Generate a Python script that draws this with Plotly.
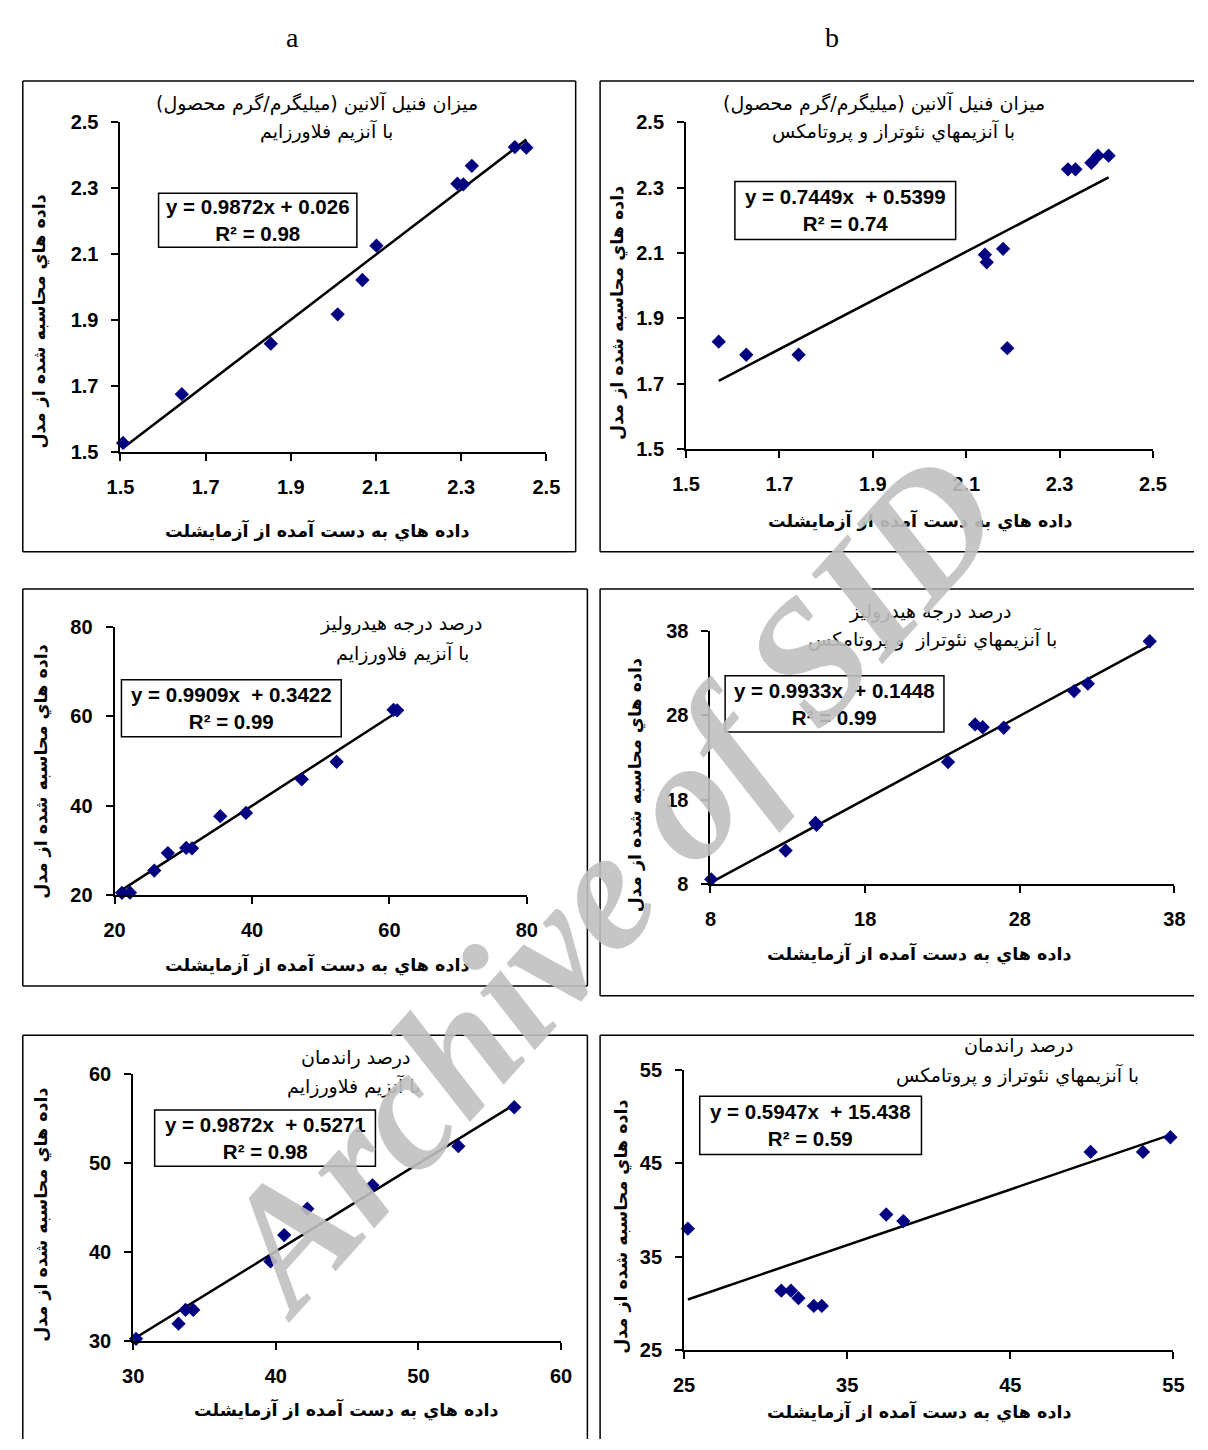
import plotly.graph_objects as go

W, H = 1208, 1450

# ---------------- data ----------------
p1_x = [1.506, 1.644, 1.853, 2.010, 2.068, 2.101, 2.291, 2.305, 2.325, 2.426, 2.453]
p1_y = [1.528, 1.676, 1.829, 1.918, 2.022, 2.126, 2.314, 2.312, 2.368, 2.425, 2.423]

p2_x = [1.570, 1.629, 1.741, 2.140, 2.144, 2.179, 2.188, 2.318, 2.334, 2.368, 2.382, 2.405]
p2_y = [1.829, 1.789, 1.789, 2.095, 2.072, 2.113, 1.809, 2.356, 2.356, 2.376, 2.398, 2.398]

p3_x = [21.07, 22.24, 25.77, 27.75, 30.42, 31.27, 35.38, 39.12, 47.24, 52.31, 60.6, 61.13]
p3_y = [20.58, 20.6, 25.53, 29.45, 30.6, 30.5, 37.67, 38.4, 45.9, 49.8, 61.4, 61.3]

p4_x = [8.05, 12.86, 14.79, 14.86, 23.36, 25.11, 25.60, 26.96, 31.51, 32.4, 36.4]
p4_y = [8.5, 11.93, 15.21, 15.0, 22.45, 26.93, 26.6, 26.54, 30.9, 31.79, 36.83]

p5_x = [30.2, 33.18, 33.67, 34.21, 39.63, 40.59, 42.21, 46.78, 52.8, 56.72]
p5_y = [30.19, 31.89, 33.44, 33.44, 38.89, 41.85, 44.81, 47.44, 51.85, 56.22]

p6_x = [25.23, 30.96, 31.55, 32.01, 32.95, 33.44, 37.16, 37.39, 38.44, 49.92, 53.13, 54.81]
p6_y = [38.01, 31.38, 31.38, 30.58, 29.75, 29.75, 47.01, 39.52, 38.82, 46.21, 46.21, 47.78]

slopes = [0.9872, 0.7449, 0.9909, 0.9933, 0.9872, 0.5947]
intercepts = [0.026, 0.5399, 0.3422, 0.1448, 0.5271, 15.438]
eq_texts = ["y = 0.9872x + 0.026", "y = 0.7449x  + 0.5399", "y = 0.9909x  + 0.3422",
            "y = 0.9933x  + 0.1448", "y = 0.9872x  + 0.5271", "y = 0.5947x  + 15.438"]
r2_texts = ["R² = 0.98", "R² = 0.74", "R² = 0.99", "R² = 0.99", "R² = 0.98", "R² = 0.59"]

ranges = [[1.5, 2.5], [1.5, 2.5], [20, 80], [8, 38], [30, 60], [25, 55]]
dticks = [0.2, 0.2, 20, 10, 10, 10]

title1 = ["ميزان فنيل آلانين (ميليگرم/گرم محصول)", "ميزان فنيل آلانين (ميليگرم/گرم محصول)",
          "درصد درجه هيدروليز", "درصد درجه هيدروليز", "درصد راندمان", "درصد راندمان"]
title2 = ["با آنزيم فلاورزايم", "با آنزيمهاي نئوتراز و پروتامكس",
          "با آنزيم فلاورزايم", "با آنزيمهاي نئوتراز  و پروتامكس",
          "با آنزيم فلاورزايم", "با آنزيمهاي نئوتراز و پروتامكس"]
xtitle = "داده هاي به دست آمده از آزمايشلت"
ytitle = "داده هاي محاسبه شده از مدل"
panel_labels = ["a", "b"]

# ---------------- layout geometry (pixels) ----------------
plot_px = [(109, 545, 113, 448), (688, 1166, 113, 445), (103, 525, 625, 898),
           (713, 1188, 630, 886), (122, 560, 1079, 1350), (686, 1187, 1075, 1360)]
# frame: left, top, right, bottom, and which sides are drawn (L, T, R, B)
frames = [(9, 71, 575, 549, "LTRB"), (600, 71, 1208, 549, "LTB"), (9, 587, 587, 990, "LTRB"),
          (600, 587, 1208, 1000, "LTB"), (9, 1040, 587, 1450, "LTR"), (600, 1040, 1208, 1450, "LT")]
t1_pos = [(310, 93), (891, 93), (396, 622), (938, 610), (350, 1063), (1028, 1050)]
t2_pos = [(320, 122), (900, 122), (398, 652), (940, 638), (348, 1092), (1027, 1080)]
boxes = [(148, 185, 351, 240), (738, 173, 964, 232), (110, 679, 335, 737),
         (728, 675, 952, 732), (144, 1116, 370, 1173), (702, 1102, 929, 1161)]
xt_pos = [(310, 528), (928, 517), (310, 968), (926, 957), (340, 1420), (926, 1422)]
yt_pos = [(26, 315), (618, 307), (28, 772), (636, 786), (28, 1222), (622, 1235)]


def px(x):
    return x / W


def py(y):
    return 1 - y / H


datasets = [(p1_x, p1_y), (p2_x, p2_y), (p3_x, p3_y), (p4_x, p4_y), (p5_x, p5_y), (p6_x, p6_y)]

fig = go.Figure()
layout_axes = {}
shapes = []
annotations = []

AR_FONT = "DejaVu Sans"
NUM_FONT = "Liberation Sans"


def seg(xa0, ya0, xa1, ya1):
    return dict(type="line", xref="paper", yref="paper", x0=px(xa0), y0=py(ya0),
                x1=px(xa1), y1=py(ya1), line=dict(color="black", width=1.5), layer="below")


for i, (xs, ys) in enumerate(datasets):
    n = i + 1
    xa = "x" if n == 1 else f"x{n}"
    ya = "y" if n == 1 else f"y{n}"
    x0, x1, y0, y1 = plot_px[i]
    axis_common = dict(showline=True, linecolor="black", linewidth=2, showgrid=False,
                       zeroline=False, ticks="outside", ticklen=7, tickwidth=1.5,
                       tickcolor="black", dtick=dticks[i], tick0=ranges[i][0],
                       range=ranges[i], fixedrange=True,
                       tickfont=dict(family=NUM_FONT, size=20, color="black", weight="bold"))
    layout_axes["xaxis" if n == 1 else f"xaxis{n}"] = dict(
        axis_common, domain=[px(x0), px(x1)], anchor=ya, ticklabelstandoff=9)
    layout_axes["yaxis" if n == 1 else f"yaxis{n}"] = dict(
        axis_common, domain=[py(y1), py(y0)], anchor=xa, ticklabelstandoff=9)

    # trendline
    lx = [min(xs), max(xs)]
    ly = [slopes[i] * v + intercepts[i] for v in lx]
    fig.add_trace(go.Scatter(x=lx, y=ly, mode="lines", xaxis=xa, yaxis=ya,
                             line=dict(color="black", width=2.5), showlegend=False,
                             hoverinfo="skip", cliponaxis=False))
    fig.add_trace(go.Scatter(x=xs, y=ys, mode="markers", xaxis=xa, yaxis=ya,
                             marker=dict(symbol="diamond", size=11, color="#000080"),
                             showlegend=False, cliponaxis=False))

    fx0, fy0, fx1, fy1, sides = frames[i]
    if "L" in sides:
        shapes.append(seg(fx0, fy0, fx0, fy1))
    if "T" in sides:
        shapes.append(seg(fx0, fy0, fx1, fy0))
    if "R" in sides:
        shapes.append(seg(fx1, fy0, fx1, fy1))
    if "B" in sides:
        shapes.append(seg(fx0, fy1, fx1, fy1))

    bx0, by0, bx1, by1 = boxes[i]
    shapes.append(dict(type="rect", xref="paper", yref="paper", x0=px(bx0), x1=px(bx1),
                       y0=py(by1), y1=py(by0), line=dict(color="black", width=1.5),
                       fillcolor="white", layer="above"))
    annotations.append(dict(xref="paper", yref="paper", x=px((bx0 + bx1) / 2),
                            y=py((by0 + by1) / 2), showarrow=False,
                            text=eq_texts[i] + "<br>" + r2_texts[i], align="center",
                            font=dict(family=NUM_FONT, size=20.5, color="black", weight="bold"),
                            xanchor="center", yanchor="middle"))
    for pos, txt in ((t1_pos[i], title1[i]), (t2_pos[i], title2[i])):
        annotations.append(dict(xref="paper", yref="paper", x=px(pos[0]), y=py(pos[1]),
                                showarrow=False, text=txt, xanchor="center", yanchor="middle",
                                font=dict(family=AR_FONT, size=19, color="black")))
    annotations.append(dict(xref="paper", yref="paper", x=px(xt_pos[i][0]), y=py(xt_pos[i][1]),
                            showarrow=False, text=xtitle, xanchor="center", yanchor="middle",
                            font=dict(family=AR_FONT, size=17.5, color="black", weight="bold")))
    annotations.append(dict(xref="paper", yref="paper", x=px(yt_pos[i][0]), y=py(yt_pos[i][1]),
                            showarrow=False, text=ytitle, textangle=-90,
                            xanchor="center", yanchor="middle",
                            font=dict(family=AR_FONT, size=17.5, color="black", weight="bold")))

for lbl, (lx_, ly_) in zip(panel_labels, [(285, 27), (837, 27)]):
    annotations.append(dict(xref="paper", yref="paper", x=px(lx_), y=py(ly_), showarrow=False,
                            text=lbl, xanchor="center", yanchor="middle",
                            font=dict(family="Liberation Serif", size=28, color="black")))

# watermark
annotations.append(dict(xref="paper", yref="paper", x=px(607), y=py(885), showarrow=False,
                        text="<i>Archive of SID</i>", textangle=-48,
                        xanchor="center", yanchor="middle",
                        font=dict(family="Liberation Serif", size=172, color="rgba(192,192,192,0.9)",
                                  weight="bold")))

fig.update_layout(width=W, height=H, margin=dict(l=0, r=0, t=0, b=0),
                  paper_bgcolor="white", plot_bgcolor="white",
                  shapes=shapes, annotations=annotations, **layout_axes)

fig.write_html("out.html", config={"displayModeBar": False},
               post_script="document.body.style.margin='0';document.body.style.overflow='hidden';")
